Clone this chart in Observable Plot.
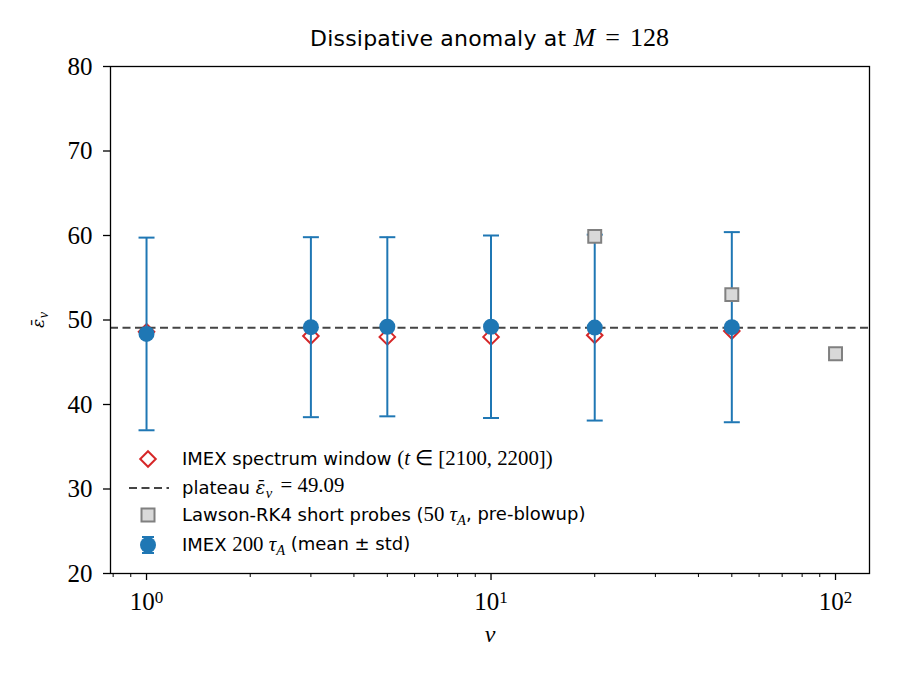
<!DOCTYPE html>
<html>
<head>
<meta charset="utf-8">
<script src="https://cdn.jsdelivr.net/npm/d3@7"></script>
<script src="https://cdn.jsdelivr.net/npm/@observablehq/plot@0.6"></script>
<style>
  html, body { margin: 0; padding: 0; background: white; }
  #wrap { width: 900px; height: 680px; position: relative; }
  #title {
    position: absolute; left: 79px; width: 821px; top: 26px;
    text-align: center; font-family: "DejaVu Sans", sans-serif; font-size: 22px; color: black;
    line-height: 24px; white-space: nowrap; letter-spacing: 0.2px;
  }
  #title .m { font-family: "Liberation Serif", serif; font-size: 26px; letter-spacing: 0; }
  #title .eq { margin: 0 10px; }
  #chart { position: absolute; left: 0; top: 52px; }
</style>
</head>
<body>
<div id="wrap">
  <div id="title">Dissipative anomaly at <span class="m"><i>M</i><span class="eq">=</span>128</span></div>
  <div id="chart"></div>
</div>
<script>
// IMEX 200 tau_A runs: mean and standard deviation of the dissipation rate
const imexNu = [1, 3, 5, 10, 20, 50];
const imexMean = [48.35, 49.15, 49.2, 49.2, 49.1, 49.15];
const imexStd = [11.4, 10.65, 10.6, 10.8, 11.0, 11.25];

// IMEX spectrum window t in [2100, 2200]
const spectrumNu = [1, 3, 5, 10, 20, 50];
const spectrumEps = [48.6, 48.1, 48.0, 48.0, 48.2, 48.7];

// Lawson-RK4 short probes (50 tau_A, before blow-up)
const lawsonNu = [20, 50, 100];
const lawsonEps = [59.9, 53.0, 46.0];

// plateau value
const plateau = 49.09;

// axis ticks
const yTicks = [20, 30, 40, 50, 60, 70, 80];
const xMajor = [1, 10, 100];
const xMinor = [0.8, 0.9, 2, 3, 4, 5, 6, 7, 8, 9, 20, 30, 40, 50, 60, 70, 80, 90];

const imex = imexNu.map((nu, i) => ({nu, mean: imexMean[i], std: imexStd[i]}));
const spectrum = spectrumNu.map((nu, i) => ({nu, eps: spectrumEps[i]}));
const lawson = lawsonNu.map((nu, i) => ({nu, eps: lawsonEps[i]}));

const blue = "#1f77b4", red = "#d62728";

// horizontal bar used as error-bar cap
const capSymbol = {
  draw(ctx, size) {
    const w = Math.sqrt(size / Math.PI);
    ctx.moveTo(-w, 0);
    ctx.lineTo(w, 0);
  }
};

const chart = Plot.plot({
  width: 900,
  height: 628,
  marginLeft: 110,
  marginRight: 31,
  marginTop: 14,
  marginBottom: 107,
  style: {fontFamily: "'Liberation Serif', serif", fontSize: "23px", color: "black", background: "white", overflow: "visible"},
  x: {type: "log", domain: [0.786, 125.5]},
  y: {domain: [20, 80]},
  marks: [
    Plot.axisY({ticks: yTicks, tickSize: 7, tickPadding: 11, tickFormat: d => String(d), label: null, strokeWidth: 1.3, fontSize: 25}),
    Plot.axisX({ticks: xMajor, tickSize: 7, tickPadding: 12, tickFormat: d => `10^${Math.round(Math.log10(d))}`, label: null, strokeWidth: 1.3, fontSize: 25}),
    Plot.axisX({ticks: xMinor, tickSize: 4, tickFormat: () => "", label: null, strokeWidth: 1}),
    Plot.dot(spectrum, {x: "nu", y: "eps", symbol: "diamond2", r: 7, stroke: red, strokeWidth: 2, fill: "none"}),
    Plot.ruleY([plateau], {stroke: "#444", strokeWidth: 2, strokeDasharray: "8,4.5"}),
    Plot.ruleX(imex, {x: "nu", y1: d => d.mean - d.std, y2: d => d.mean + d.std, stroke: blue, strokeWidth: 2}),
    Plot.dot(imex, {x: "nu", y: d => d.mean + d.std, symbol: capSymbol, r: 8, stroke: blue, strokeWidth: 2, fill: "none"}),
    Plot.dot(imex, {x: "nu", y: d => d.mean - d.std, symbol: capSymbol, r: 8, stroke: blue, strokeWidth: 2, fill: "none"}),
    Plot.dot(imex, {x: "nu", y: "mean", r: 8, fill: blue, stroke: "none"}),
    Plot.dot(lawson, {x: "nu", y: "eps", symbol: "square", r: 7.3, fill: "#d9d9d9", stroke: "#808080", strokeWidth: 2}),
    Plot.frame({stroke: "black", strokeWidth: 1.3})
  ]
});

const svg = d3.select(chart);

// power-of-ten tick labels with superscripts
svg.selectAll("text").each(function () {
  const t = d3.select(this);
  const m = /^10\^(-?\d+)$/.exec(t.text());
  if (!m) return;
  t.text("10");
  t.append("tspan").attr("dy", "-0.45em").attr("font-size", "17px").text(m[1]);
});

const sans = "'DejaVu Sans', sans-serif";
const serif = "'Liberation Serif', serif";
const accentSerif = "'DejaVu Serif', serif";

// text made of sans words and serif math pieces
function richText(g, x, y, parts, size, mathSize) {
  const t = g.append("text").attr("x", x).attr("y", y).attr("font-size", size)
    .attr("fill", "black").attr("text-anchor", "start");
  for (const p of parts) {
    const fam = p.f === "m" ? serif : p.f === "a" ? accentSerif : sans;
    const s = t.append("tspan").text(p.t).attr("font-family", fam);
    if (p.f === "m") s.attr("font-size", mathSize);
    if (p.f === "a") s.attr("font-size", mathSize * 0.85);
    if (p.i) s.attr("font-style", "italic");
    if (p.dx) s.attr("dx", p.dx);
    if (p.dy) s.attr("dy", p.dy);
    if (p.sub) s.attr("font-size", mathSize * 0.7);
  }
  return t;
}

// epsilon with a bar and nu subscript
const epsBar = [
  {t: "ε̄", f: "a", i: true},
  {t: "ν", f: "m", i: true, sub: true, dx: "0.04em", dy: "0.3em"}
];

// axis titles
richText(svg, 490, 590, [{t: "ν", f: "m", i: true}], 24, 24).attr("text-anchor", "middle");
const yl = svg.append("g").attr("transform", "translate(44,268) rotate(-90)");
richText(yl, 0, 0, epsBar, 20, 20).attr("text-anchor", "middle");

// legend
const lg = svg.append("g");
const lx = 148, tx = 182, fs = 18, ms = 20.8;
const rows = [407, 436, 463, 493];

lg.append("path").attr("transform", `translate(${lx},${rows[0]})`)
  .attr("d", d3.symbol(d3.symbolDiamond2, 7 * 7 * Math.PI)())
  .attr("fill", "none").attr("stroke", red).attr("stroke-width", 2);
richText(lg, tx, rows[0] + 6, [
  {t: "IMEX spectrum window "}, {t: "(", f: "m"}, {t: "t", f: "m", i: true}, {t: " ∈ [2100, 2200])", f: "m"}
], fs, ms);

lg.append("line").attr("x1", lx - 19).attr("x2", lx + 21).attr("y1", rows[1]).attr("y2", rows[1])
  .attr("stroke", "#444").attr("stroke-width", 2).attr("stroke-dasharray", "8,4.5");
richText(lg, tx, rows[1] + 6, [
  {t: "plateau "}, ...epsBar, {t: " = 49.09", f: "m", dx: "0.15em", dy: "-0.3em"}
], fs, ms);

lg.append("rect").attr("x", lx - 6.5).attr("y", rows[2] - 6.5).attr("width", 13).attr("height", 13)
  .attr("fill", "#d9d9d9").attr("stroke", "#808080").attr("stroke-width", 2);
richText(lg, tx, rows[2] + 6, [
  {t: "Lawson-RK4 short probes ("}, {t: "50 ", f: "m"}, {t: "τ", f: "m", i: true},
  {t: "A", f: "m", i: true, sub: true, dy: "0.3em"}, {t: ", pre-blowup)", dy: "-0.3em"}
], fs, ms);

lg.append("line").attr("x1", lx).attr("x2", lx).attr("y1", rows[3] - 8).attr("y2", rows[3] + 8)
  .attr("stroke", blue).attr("stroke-width", 2);
lg.append("line").attr("x1", lx - 6).attr("x2", lx + 6).attr("y1", rows[3] - 8).attr("y2", rows[3] - 8)
  .attr("stroke", blue).attr("stroke-width", 2);
lg.append("line").attr("x1", lx - 6).attr("x2", lx + 6).attr("y1", rows[3] + 8).attr("y2", rows[3] + 8)
  .attr("stroke", blue).attr("stroke-width", 2);
lg.append("circle").attr("cx", lx).attr("cy", rows[3]).attr("r", 8).attr("fill", blue);
richText(lg, tx, rows[3] + 6, [
  {t: "IMEX "}, {t: "200 ", f: "m"}, {t: "τ", f: "m", i: true},
  {t: "A", f: "m", i: true, sub: true, dy: "0.3em"}, {t: " (mean ± std)", dy: "-0.3em"}
], fs, ms);

document.getElementById("chart").appendChild(chart);
</script>
</body>
</html>
